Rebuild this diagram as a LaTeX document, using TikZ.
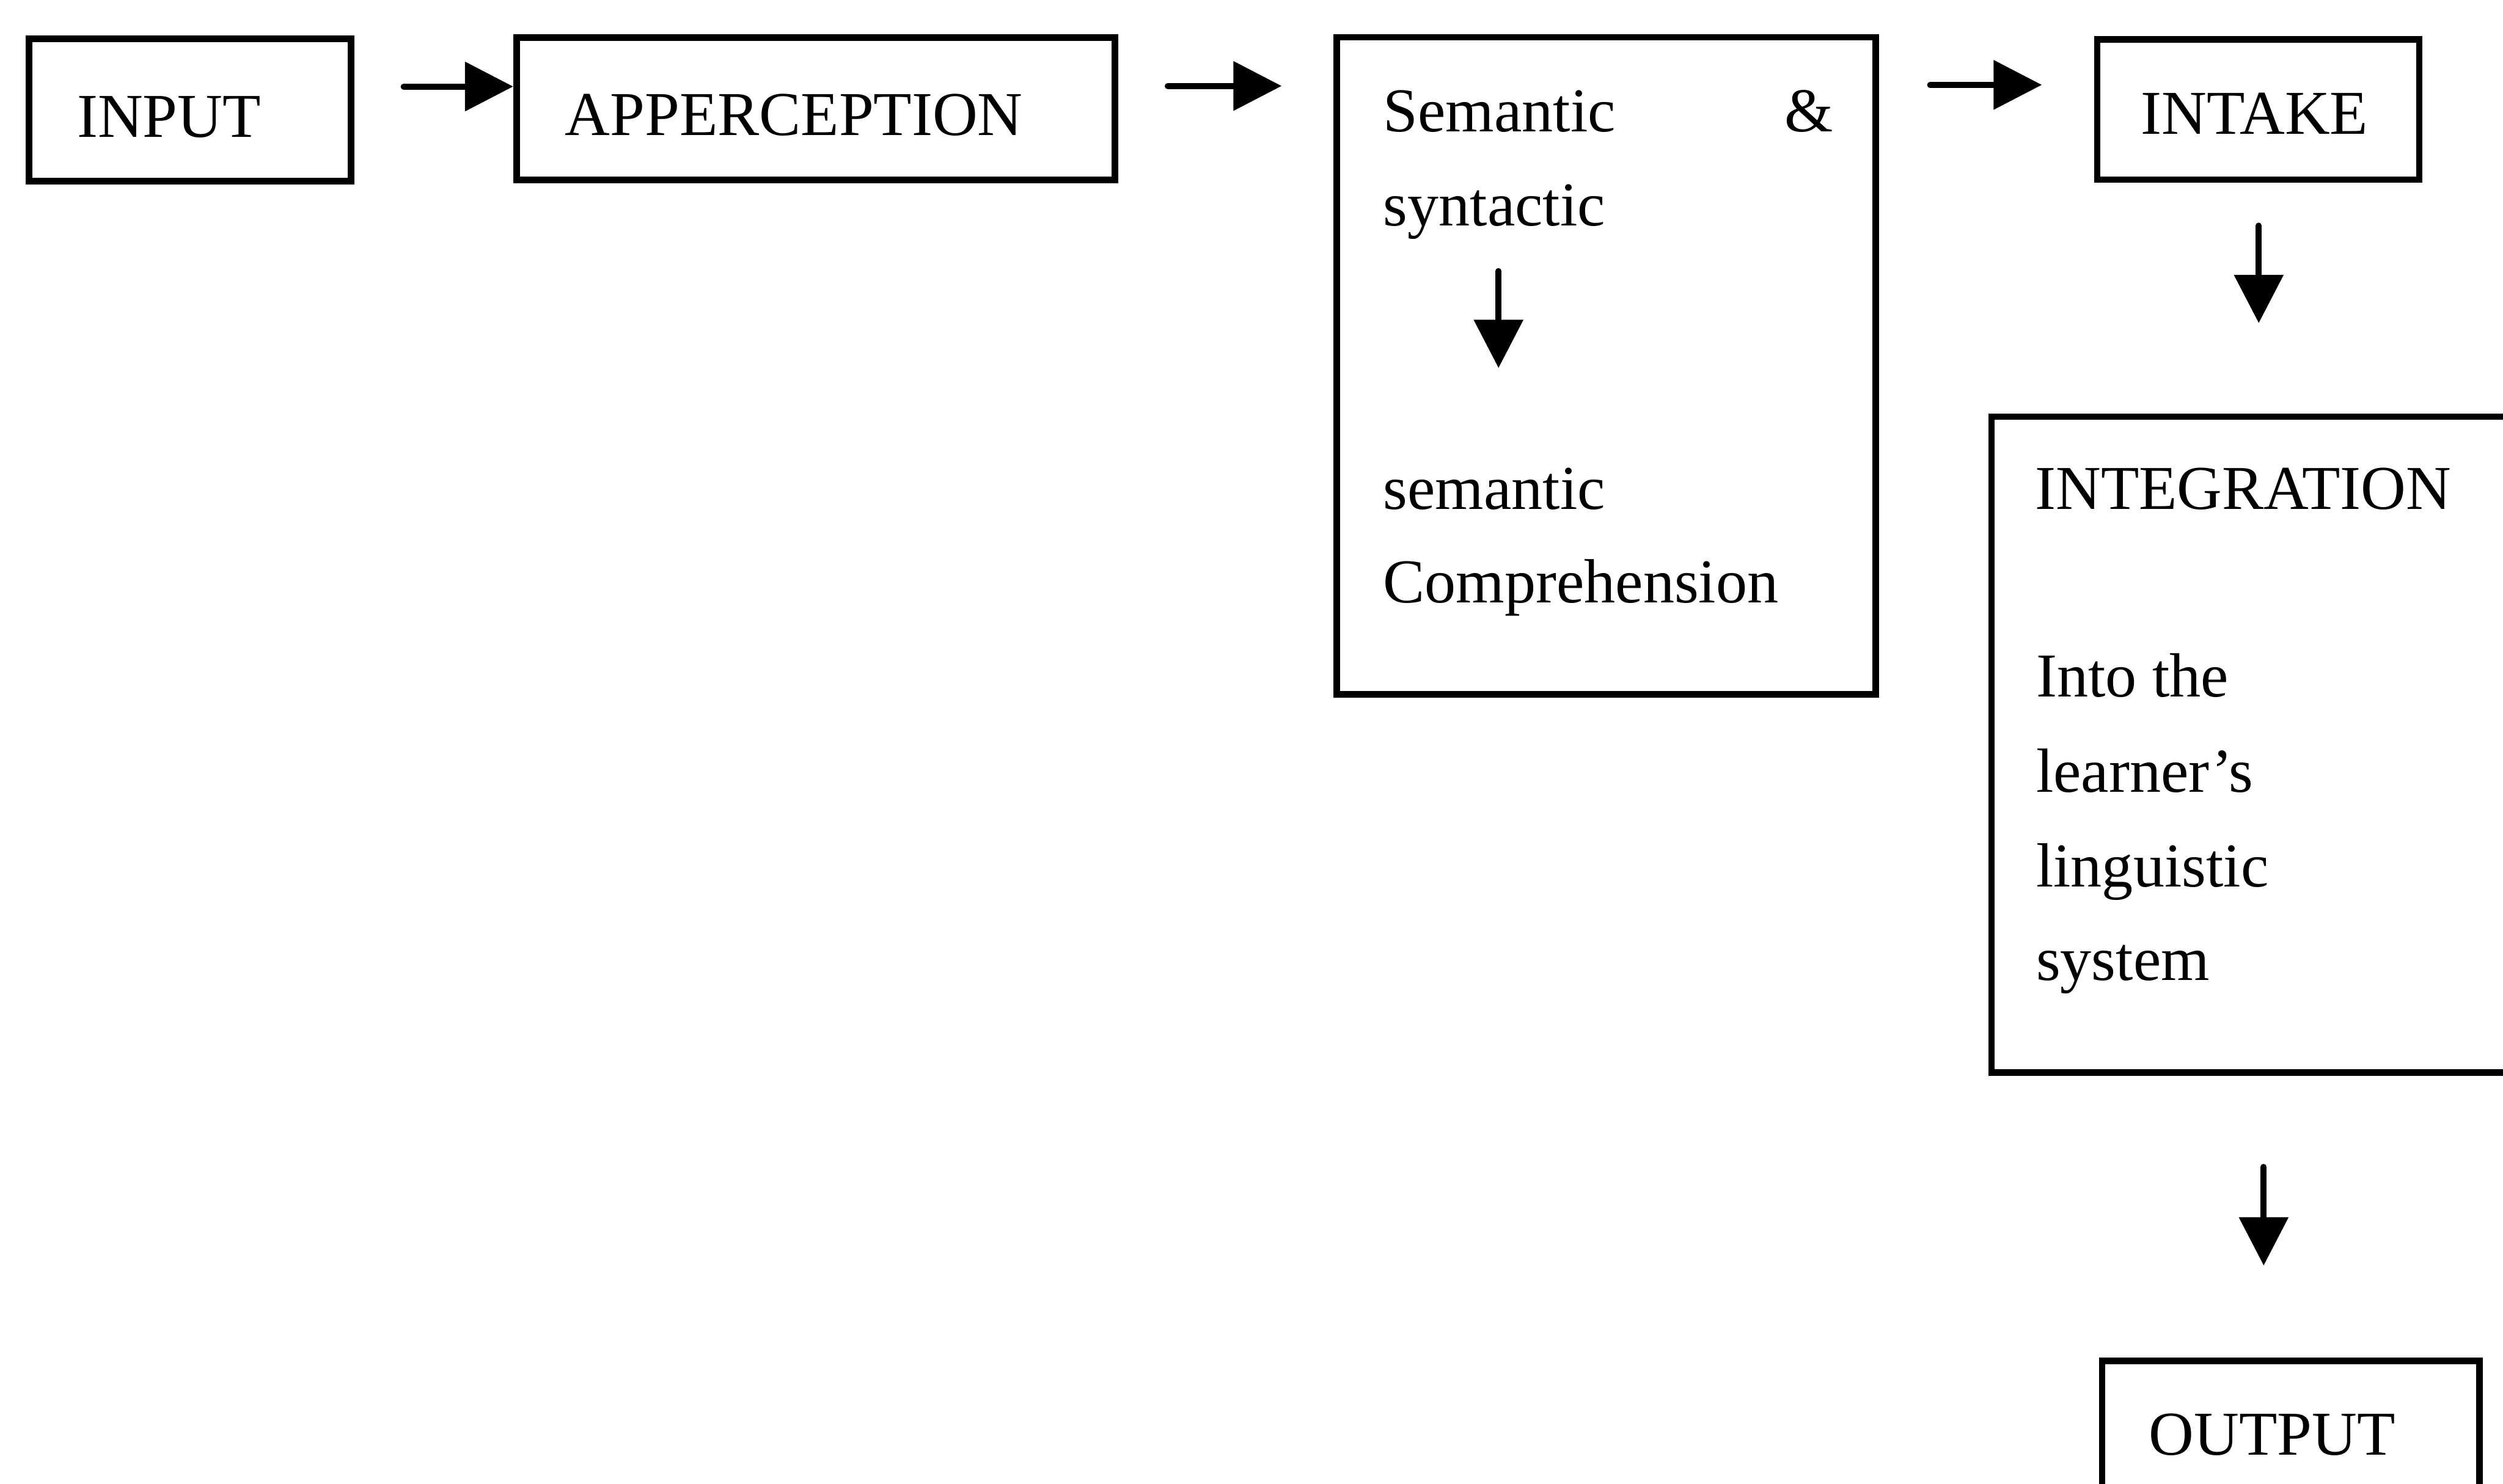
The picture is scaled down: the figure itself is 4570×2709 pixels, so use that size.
\documentclass[tikz,border=0pt]{standalone}
\usepackage{fontspec}
\setmainfont{Liberation Serif}
\usetikzlibrary{arrows.meta,fit}
\begin{document}
\begin{tikzpicture}[x=0.01cm,y=-0.01cm,
  box/.style={draw,line width=0.12cm,inner sep=0pt,rectangle},
  txt/.style={anchor=base west,inner sep=0pt,font=\fontsize{32.4pt}{40pt}\selectfont},
  arr/.style={line width=0.11cm,line cap=round,-{Triangle[length=0.88cm,width=0.88cm]}}]
\clip (0,0) rectangle (4570,2709);
\fill[white] (0,0) rectangle (4570,2709);

% boxes
\node[box,fit={(53,71) (641,331)}] (input) {};
\node[box,fit={(943,69) (2036,329)}] (apper) {};
\node[box,fit={(2441,68) (3425,1268)}] (semsyn) {};
\node[box,fit={(3829,72) (4417,328)}] (intake) {};
\node[box,fit={(3636,761) (4700,1959)}] (integ) {};
\node[box,fit={(3838,2485) (4527,2800)}] (output) {};

% labels
\node[txt] (tinput) at (140,250) {INPUT};
\node[txt] (tapper) at (1031,247) {APPERCEPTION};
\node[txt] (tsem) at (2525,240) {Semantic};
\node[txt] (tamp) at (3258,240) {\&};
\node[txt] (tsyn) at (2525,412) {syntactic};
\node[txt] (tsem2) at (2525,930) {semantic};
\node[txt] (tcomp) at (2525,1101) {Comprehension};
\node[txt] (tintake) at (3908,245) {INTAKE};
\node[txt] (tinteg) at (3715,930) {INTEGRATION};
\node[txt] (tinto) at (3717,1273) {Into the};
\node[txt] (tlearn) at (3717,1446) {learner’s};
\node[txt] (tling) at (3717,1619) {linguistic};
\node[txt] (tsys) at (3717,1790) {system};
\node[txt] (toutput) at (3923,2657) {OUTPUT};

% arrow end points
\coordinate (a1s) at (737,158);
\coordinate (a2s) at (2132,157);
\coordinate (a2e) at (2340,157);
\coordinate (a3s) at (3524,155);
\coordinate (a3e) at (3728,155);
\coordinate (a4s) at (4124,412);
\coordinate (a4e) at (4124,590);
\coordinate (a6s) at (2736,495);
\coordinate (a6e) at (2736,672);
\coordinate (a5s) at (4133,2131);
\coordinate (a5e) at (4133,2311);

% connectors
\draw[arr] (a1s) -- (a1s -| apper.west);
\draw[arr] (a2s) -- (a2e);
\draw[arr] (a3s) -- (a3e);
\draw[arr] (a4s) -- (a4e);
\draw[arr] (a6s) -- (a6e);
\draw[arr] (a5s) -- (a5e);
\end{tikzpicture}
\end{document}
